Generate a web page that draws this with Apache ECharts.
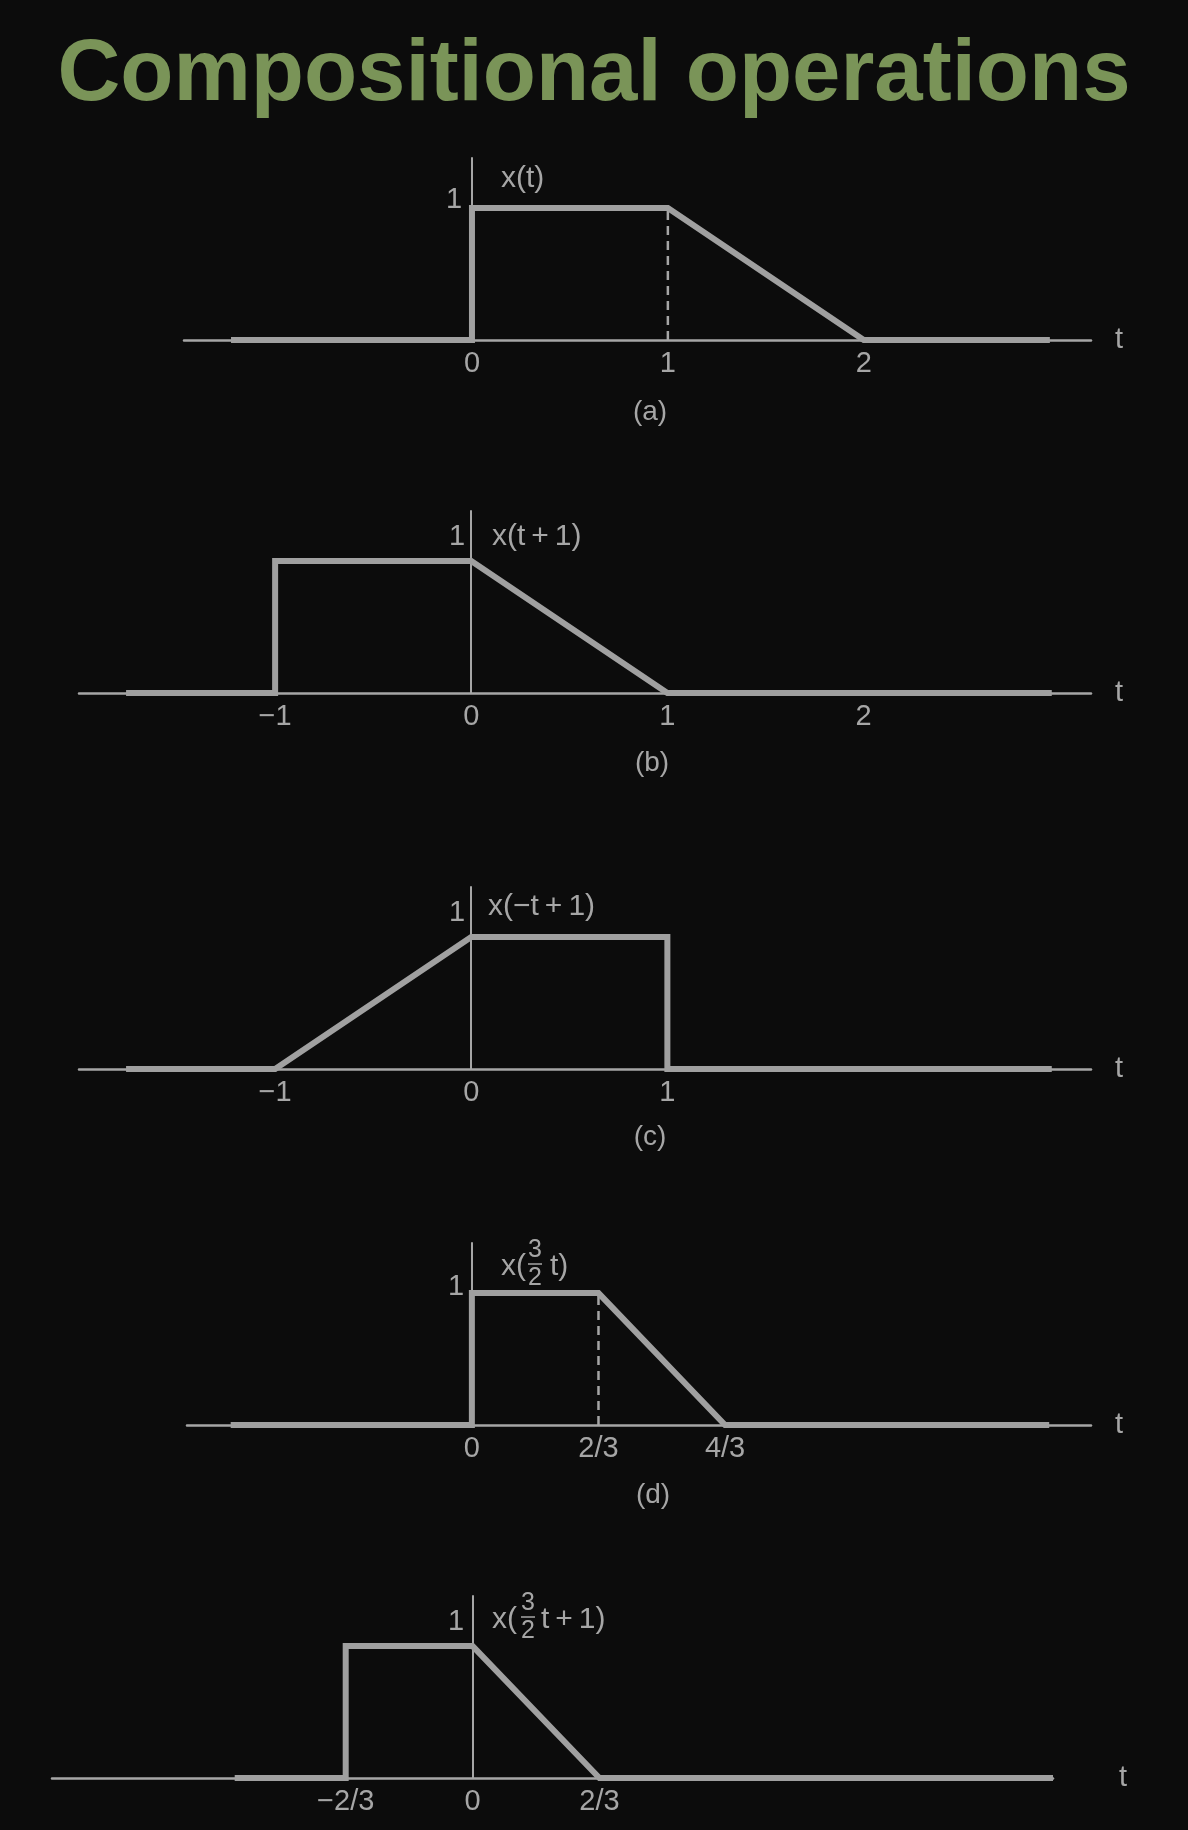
<!DOCTYPE html>
<html>
<head>
<meta charset="utf-8">
<script src="https://cdn.jsdelivr.net/npm/echarts@6/dist/echarts.min.js"></script>
<style>
html,body{margin:0;padding:0;background:#0c0c0c;}
#chart{width:1188px;height:1830px;}
</style>
</head>
<body>
<div id="chart"></div>
<script>
// ---- data ----
const titleText = 'Compositional operations';
const panelCaptions = ['(a)', '(b)', '(c)', '(d)', ''];
const funcNames = ['x(t)', 'x(t\u2009+\u20091)', 'x(\u2212t\u2009+\u20091)'];

// signal breakpoints: t values and amplitudes
const sigA_t = [-1.23, 0, 0, 1, 2, 2.95];
const sigA_x = [0, 0, 1, 1, 0, 0];
const sigB_t = [-1.76, -1, -1, 0, 1, 2.96];
const sigB_x = [0, 0, 1, 1, 0, 0];
const sigC_t = [-1.76, -1, 0, 1, 1, 2.96];
const sigC_x = [0, 0, 1, 1, 0, 0];
const sigD_t = [-1.27, 0, 0, 2 / 3, 4 / 3, 3.04];
const sigD_x = [0, 0, 1, 1, 0, 0];
const sigE_t = [-1.25, -2 / 3, -2 / 3, 0, 2 / 3, 3.05];
const sigE_x = [0, 0, 1, 1, 0, 0];

// dashed guides
const dashA_t = [1, 1];
const dashA_x = [0, 1];
const dashD_t = [2 / 3, 2 / 3];
const dashD_x = [0, 1];

// tick values and labels
const ticksA = [0, 1, 2];
const ticksA_lbl = ['0', '1', '2'];
const ticksB = [-1, 0, 1, 2];
const ticksB_lbl = ['\u22121', '0', '1', '2'];
const ticksC = [-1, 0, 1];
const ticksC_lbl = ['\u22121', '0', '1'];
const ticksD = [0, 2 / 3, 4 / 3];
const ticksD_lbl = ['0', '2/3', '4/3'];
const ticksE = [-2 / 3, 0, 2 / 3];
const ticksE_lbl = ['\u22122/3', '0', '2/3'];
const yTick_lbl = '1';

// ---- layout / styles ----
const FONT = '"Liberation Sans Narrow", "Liberation Sans", Arial, sans-serif';
const GRAY = '#a6a6a6';
const SIG = '#a0a0a0';

const panels = [
  { t: sigA_t, x: sigA_x, dt: dashA_t, dx: dashA_x, ticks: ticksA, lbl: ticksA_lbl,
    grid: { left: 184, right: 97, top: 158, height: 182 }, xmin: -1.47, xmax: 3.16, nameGap: 24 },
  { t: sigB_t, x: sigB_x, ticks: ticksB, lbl: ticksB_lbl,
    grid: { left: 79, right: 97, top: 511, height: 182 }, xmin: -2.0, xmax: 3.16, nameGap: 24 },
  { t: sigC_t, x: sigC_x, ticks: ticksC, lbl: ticksC_lbl,
    grid: { left: 79, right: 97, top: 887, height: 182 }, xmin: -2.0, xmax: 3.16, nameGap: 24 },
  { t: sigD_t, x: sigD_x, dt: dashD_t, dx: dashD_x, ticks: ticksD, lbl: ticksD_lbl,
    grid: { left: 187, right: 97, top: 1243, height: 182 }, xmin: -1.5, xmax: 3.26, nameGap: 24 },
  { t: sigE_t, x: sigE_x, ticks: ticksE, lbl: ticksE_lbl,
    grid: { left: 52, right: 135, top: 1596, height: 182 }, xmin: -2.21, xmax: 3.05, nameGap: 66 }
];

function zip(a, b) { return a.map((v, i) => [v, b[i]]); }
function fmt(ticks, lbl) {
  return function (v) {
    let best = 0, bd = Infinity;
    ticks.forEach((tv, i) => { const d = Math.abs(tv - v); if (d < bd) { bd = d; best = i; } });
    return bd < 1e-3 ? lbl[best] : '';
  };
}

const grids = [], xAxes = [], yAxes = [], series = [];
panels.forEach((p, i) => {
  grids.push(Object.assign({ containLabel: false }, p.grid));
  xAxes.push({
    type: 'value', gridIndex: i, min: p.xmin, max: p.xmax,
    axisLine: { onZero: true, lineStyle: { color: GRAY, width: 2.5 } },
    axisTick: { show: false }, splitLine: { show: false },
    axisLabel: { customValues: p.ticks, formatter: fmt(p.ticks, p.lbl), color: GRAY,
      fontFamily: FONT, fontSize: 29, margin: 9, showMinLabel: true, showMaxLabel: true },
    name: 't', nameLocation: 'end', nameGap: p.nameGap,
    nameTextStyle: { color: GRAY, fontFamily: FONT, fontSize: 29, verticalAlign: 'middle' }
  });
  yAxes.push({
    type: 'value', gridIndex: i, min: 0, max: 1.38,
    axisLine: { show: true, onZero: true, lineStyle: { color: GRAY, width: 2 } },
    axisTick: { show: false }, splitLine: { show: false },
    axisLabel: { show: false }
  });
  series.push({
    type: 'line', xAxisIndex: i, yAxisIndex: i, data: zip(p.t, p.x),
    showSymbol: false, symbol: 'none', clip: false, silent: true,
    lineStyle: { color: SIG, width: 6, join: 'miter' }, z: 3
  });
  if (p.dt) {
    series.push({
      type: 'line', xAxisIndex: i, yAxisIndex: i, data: zip(p.dt, p.dx),
      showSymbol: false, symbol: 'none', clip: false, silent: true,
      lineStyle: { color: GRAY, width: 2.5, type: [9, 6] }, z: 2
    });
  }
});

const txt = (x, y, text, size, extra) => Object.assign({
  type: 'text', x: x, y: y, silent: true,
  style: Object.assign({ text: text, fill: GRAY, font: size + 'px ' + FONT, textAlign: 'left', textVerticalAlign: 'middle' }, extra || {})
});
const frac = (cx, y, num, den) => [
  txt(cx, y - 17, num, 25, { textAlign: 'center' }),
  { type: 'line', silent: true, shape: { x1: cx - 7, y1: y - 3, x2: cx + 7, y2: y - 3 }, style: { stroke: GRAY, lineWidth: 1.5 } },
  txt(cx, y + 11, den, 25, { textAlign: 'center' })
];

const graphics = [
  { type: 'text', x: 594, y: 76, silent: true,
    style: { text: titleText, fill: '#7a9458', font: 'bold 87px "Liberation Sans", Arial, sans-serif',
      textAlign: 'center', textVerticalAlign: 'middle' } },
  // y "1" labels
  txt(454, 200, yTick_lbl, 29, { textAlign: 'center' }),
  txt(457, 537, yTick_lbl, 29, { textAlign: 'center' }),
  txt(457, 913, yTick_lbl, 29, { textAlign: 'center' }),
  txt(456, 1287, yTick_lbl, 29, { textAlign: 'center' }),
  txt(456, 1622, yTick_lbl, 29, { textAlign: 'center' }),
  // function names
  txt(501, 179, funcNames[0], 30),
  txt(492, 537, funcNames[1], 30),
  txt(488, 907, funcNames[2], 30),
  // (d) x(3/2 t)
  txt(501, 1267, 'x(', 30),
  ...frac(535, 1267, '3', '2'),
  txt(550, 1267, 't)', 30),
  // (e) x(3/2 t+1)
  txt(492, 1620, 'x(', 30),
  ...frac(528, 1620, '3', '2'),
  txt(541, 1620, 't\u2009+\u20091)', 30),
  // captions
  txt(650, 412, panelCaptions[0], 28, { textAlign: 'center' }),
  txt(652, 763, panelCaptions[1], 28, { textAlign: 'center' }),
  txt(650, 1137, panelCaptions[2], 28, { textAlign: 'center' }),
  txt(653, 1495, panelCaptions[3], 28, { textAlign: 'center' })
];

const chart = echarts.init(document.getElementById('chart'), null, { renderer: 'canvas' });
chart.setOption({
  backgroundColor: '#0c0c0c',
  animation: false,
  grid: grids, xAxis: xAxes, yAxis: yAxes, series: series,
  graphic: graphics
});
</script>
</body>
</html>
